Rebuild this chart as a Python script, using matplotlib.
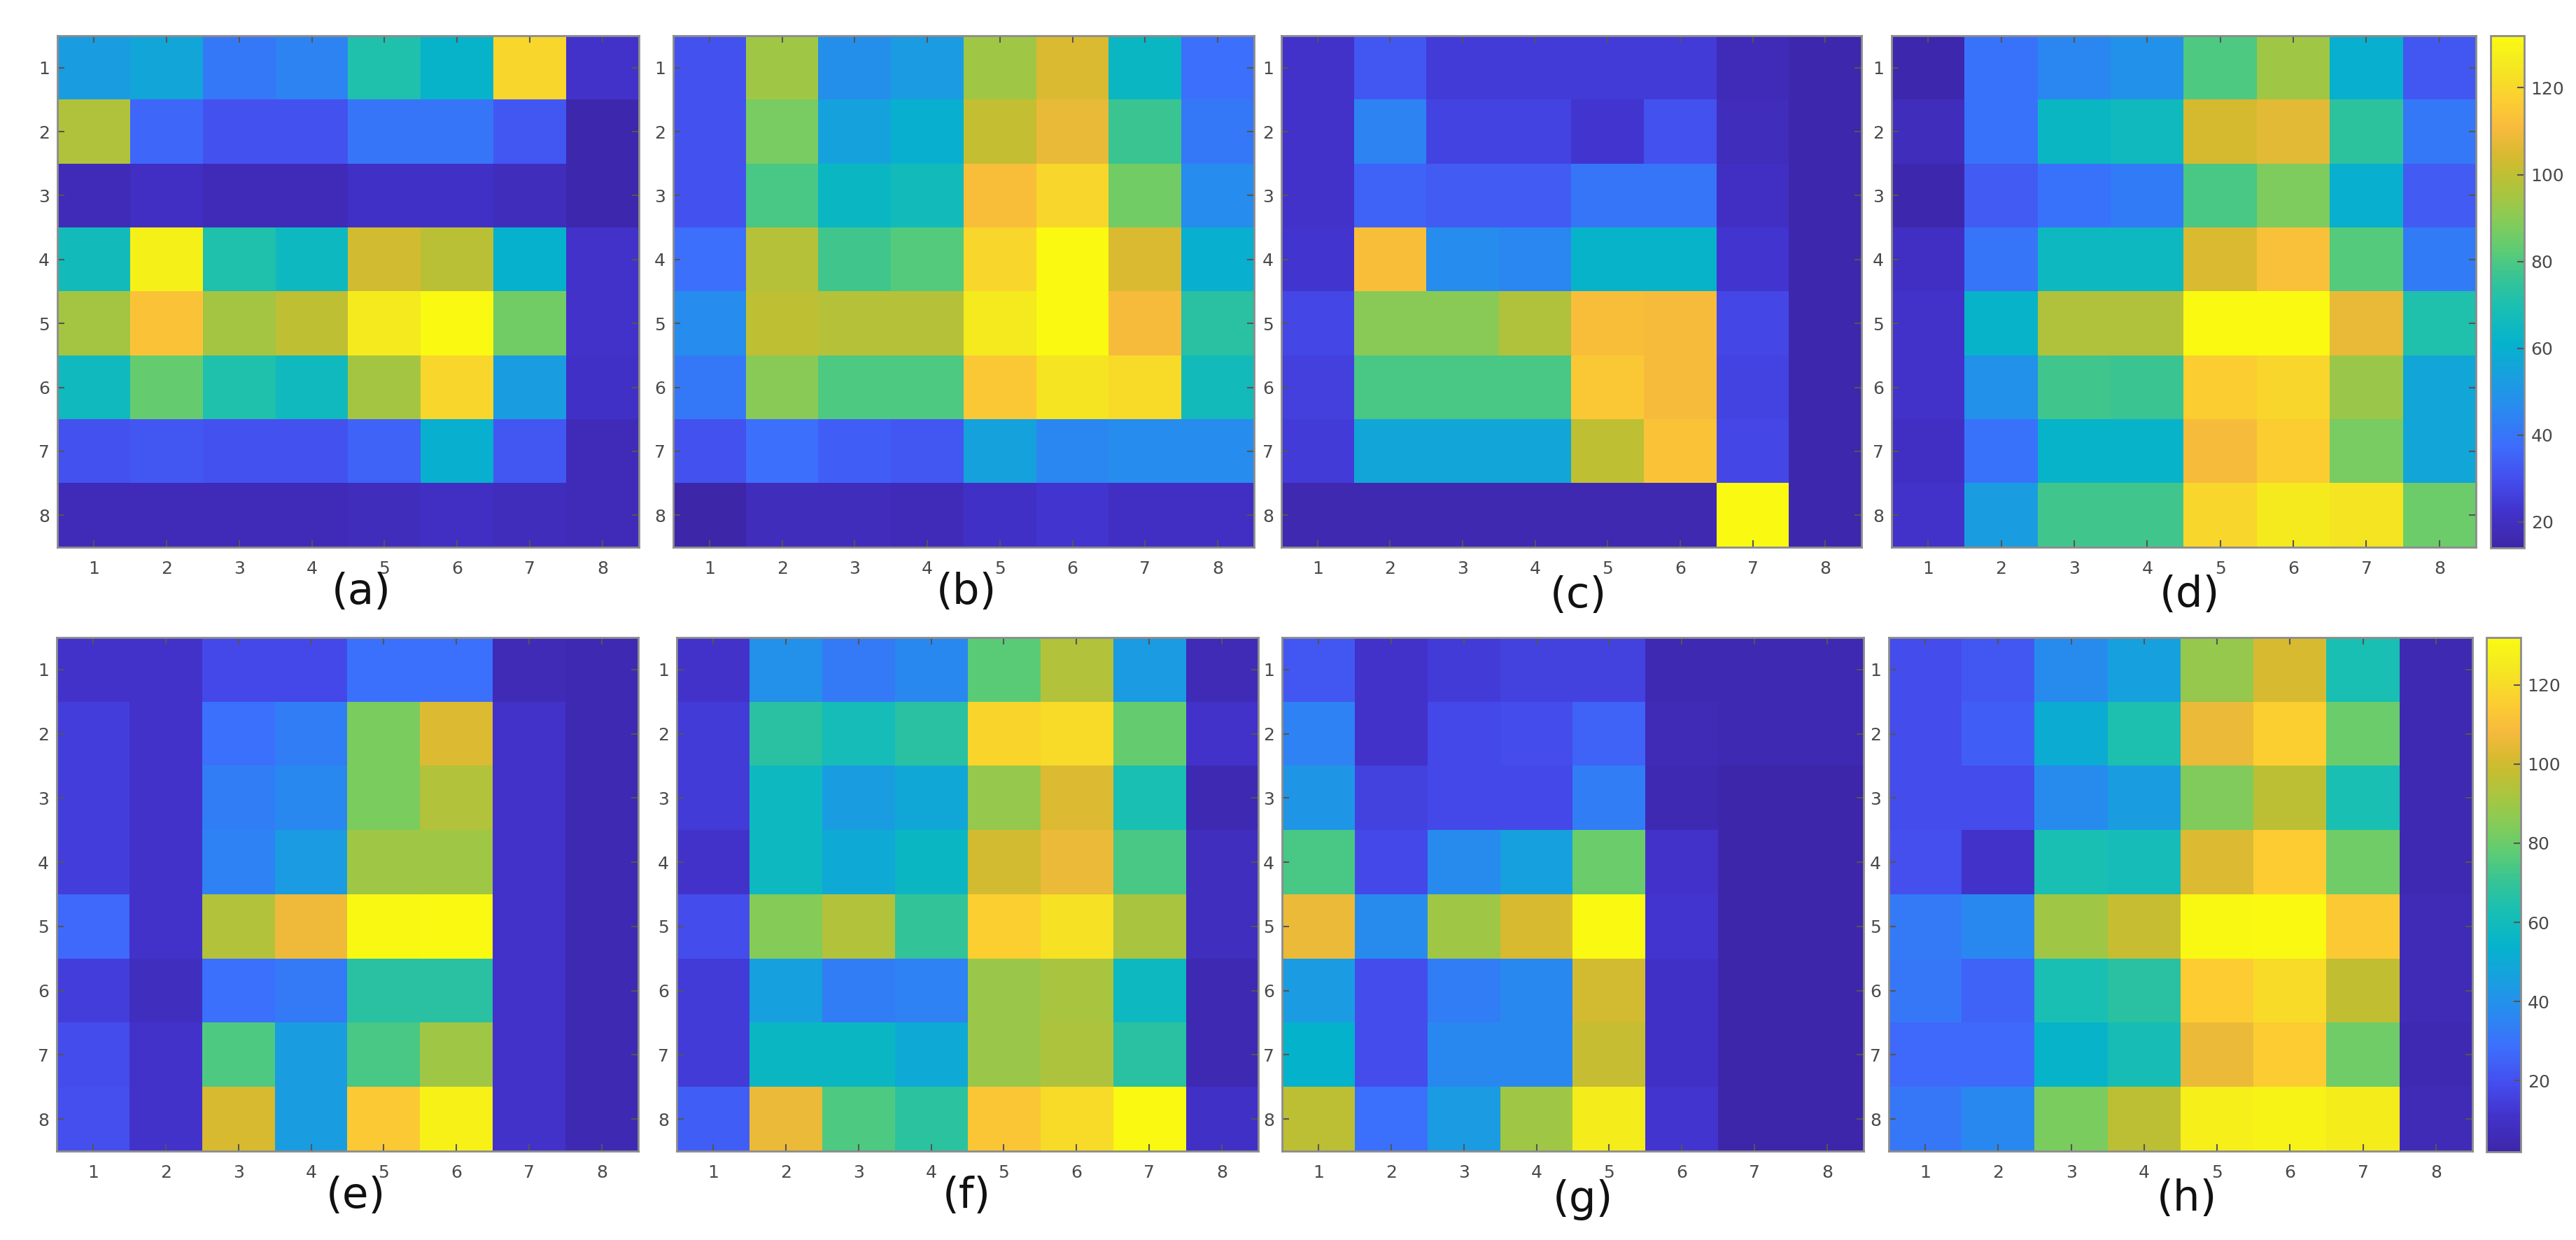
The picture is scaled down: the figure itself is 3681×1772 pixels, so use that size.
import matplotlib
matplotlib.use("Agg")
import matplotlib.pyplot as plt
import numpy as np
from matplotlib.colors import LinearSegmentedColormap

# values (rows 1..8, cols 1..8)
panel_a = [[53, 56, 41, 44, 71, 62, 120, 22],
           [97, 36, 31, 31, 40, 40, 32, 15],
           [18, 20, 18, 18, 21, 21, 19, 15],
           [67, 128, 71, 65, 103, 99, 61, 22],
           [95, 114, 95, 100, 126, 132, 86, 22],
           [66, 84, 71, 66, 95, 120, 53, 21],
           [31, 32, 31, 31, 35, 60, 32, 18],
           [18, 18, 18, 18, 19, 20, 19, 18]]
panel_b = [[31, 94, 48, 52, 94, 105, 64, 38],
           [31, 87, 55, 60, 101, 108, 77, 41],
           [31, 79, 64, 67, 112, 120, 86, 47],
           [38, 98, 78, 81, 120, 132, 105, 60],
           [47, 100, 98, 98, 126, 132, 111, 73],
           [41, 90, 80, 80, 115, 124, 121, 67],
           [31, 38, 34, 32, 55, 45, 47, 47],
           [14, 19, 19, 18, 21, 23, 20, 20]]
panel_c = [[22, 32, 25, 25, 25, 25, 18, 15],
           [22, 44, 27, 27, 23, 31, 19, 15],
           [22, 35, 33, 33, 40, 40, 20, 15],
           [23, 112, 47, 45, 62, 62, 23, 15],
           [28, 90, 90, 97, 112, 111, 28, 15],
           [26, 79, 79, 79, 115, 111, 27, 15],
           [25, 56, 56, 56, 100, 114, 28, 15],
           [16, 16, 16, 16, 16, 16, 132, 15]]
panel_d = [[15, 39, 45, 49, 80, 94, 60, 32],
           [19, 39, 64, 66, 104, 107, 74, 41],
           [15, 33, 39, 42, 79, 88, 60, 33],
           [20, 40, 65, 65, 105, 113, 81, 42],
           [22, 62, 97, 97, 132, 132, 108, 71],
           [22, 49, 78, 77, 117, 120, 93, 56],
           [20, 39, 62, 62, 111, 117, 87, 56],
           [22, 53, 78, 78, 120, 126, 124, 85]]
panel_e = [[11, 11, 18, 18, 29, 29, 6, 5],
           [15, 11, 29, 33, 83, 103, 11, 5],
           [15, 11, 33, 37, 83, 94, 11, 5],
           [15, 11, 35, 44, 90, 90, 11, 5],
           [27, 11, 94, 107, 131, 132, 11, 5],
           [15, 8, 29, 32, 67, 67, 11, 5],
           [19, 11, 75, 45, 74, 90, 11, 5],
           [20, 11, 102, 45, 114, 128, 11, 5]]
panel_f = [[11, 40, 32, 37, 77, 94, 44, 6],
           [14, 67, 61, 67, 118, 120, 79, 11],
           [14, 58, 45, 49, 88, 103, 63, 5],
           [11, 58, 50, 57, 101, 106, 74, 8],
           [19, 85, 94, 70, 116, 122, 92, 8],
           [14, 46, 33, 35, 89, 92, 58, 5],
           [14, 57, 57, 50, 89, 93, 67, 5],
           [24, 106, 75, 68, 113, 120, 132, 10]]
panel_g = [[22, 11, 14, 16, 16, 5, 5, 5],
           [35, 11, 18, 19, 25, 6, 5, 5],
           [42, 16, 18, 18, 33, 5, 3, 3],
           [74, 18, 38, 46, 80, 11, 3, 3],
           [106, 38, 90, 102, 132, 12, 3, 3],
           [44, 19, 33, 37, 101, 10, 3, 3],
           [54, 19, 37, 37, 98, 10, 3, 3],
           [96, 29, 44, 90, 126, 12, 3, 3]]
panel_h = [[19, 22, 38, 46, 88, 102, 63, 5],
           [19, 24, 51, 64, 106, 116, 80, 5],
           [19, 19, 38, 45, 84, 96, 63, 5],
           [20, 11, 63, 61, 103, 115, 81, 5],
           [32, 37, 90, 98, 131, 132, 114, 6],
           [31, 25, 63, 67, 115, 120, 97, 6],
           [27, 27, 55, 62, 106, 115, 81, 5],
           [31, 37, 83, 96, 127, 129, 126, 6]]

panels = [panel_a, panel_b, panel_c, panel_d, panel_e, panel_f, panel_g, panel_h]
labels = ["(a)", "(b)", "(c)", "(d)", "(e)", "(f)", "(g)", "(h)"]
tick_labels = ["1", "2", "3", "4", "5", "6", "7", "8"]
cbar_ticks = [20, 40, 60, 80, 100, 120]
row_limits = [(14, 132), (2, 132)]

# parula-like colormap
parula_stops = [
    (0.00, (0.24, 0.15, 0.66)), (0.07, (0.26, 0.20, 0.80)),
    (0.13, (0.27, 0.30, 0.93)), (0.20, (0.24, 0.43, 0.99)),
    (0.27, (0.16, 0.54, 0.94)), (0.33, (0.10, 0.62, 0.88)),
    (0.40, (0.02, 0.70, 0.80)), (0.47, (0.10, 0.75, 0.70)),
    (0.53, (0.22, 0.77, 0.58)), (0.58, (0.36, 0.80, 0.46)),
    (0.63, (0.50, 0.80, 0.36)), (0.68, (0.63, 0.78, 0.27)),
    (0.73, (0.75, 0.75, 0.20)), (0.77, (0.85, 0.73, 0.19)),
    (0.82, (0.97, 0.73, 0.24)), (0.87, (0.99, 0.80, 0.20)),
    (0.91, (0.97, 0.86, 0.16)), (0.95, (0.96, 0.92, 0.12)),
    (1.00, (0.98, 0.98, 0.07))]
parula = LinearSegmentedColormap.from_list("parula", parula_stops)

W, H = 3681, 1772
fig = plt.figure(figsize=(W / 100, H / 100), dpi=100)
fig.patch.set_facecolor("white")

# pixel boxes (x0, x1, y0, y1)
boxes = [(82, 913, 51, 782), (962, 1792, 51, 782), (1831, 2660, 51, 782), (2703, 3538, 51, 782),
         (81, 912, 911, 1645), (967, 1798, 911, 1645), (1832, 2663, 911, 1645), (2699, 3533, 911, 1645)]
cbar_boxes = [(3559, 3607, 51, 783), (3553, 3602, 911, 1646)]
label_pos = [(516, 847), (1381, 847), (2255, 852), (3129, 850),
             (508, 1710), (1381, 1710), (2262, 1714), (3125, 1714)]

def px_rect(b):
    x0, x1, y0, y1 = b
    return [x0 / W, 1 - y1 / H, (x1 - x0) / W, (y1 - y0) / H]

edge = "#8c8c8c"
ims = []
for i, data in enumerate(panels):
    vmin, vmax = row_limits[i // 4]
    ax = fig.add_axes(px_rect(boxes[i]))
    im = ax.imshow(np.array(data), cmap=parula, vmin=vmin, vmax=vmax,
                   aspect="auto", interpolation="nearest")
    ims.append(im)
    ax.set_xticks(range(8))
    ax.set_yticks(range(8))
    ax.set_xticklabels(tick_labels)
    ax.set_yticklabels(tick_labels)
    ax.tick_params(direction="in", length=7, width=1.5, color="#555555",
                   labelsize=18, labelcolor="#4a4a4a", top=True, right=True)
    ax.tick_params(axis="x", pad=14)
    ax.tick_params(axis="y", pad=8)
    for s in ax.spines.values():
        s.set_color(edge)
        s.set_linewidth(2)
    fig.text(label_pos[i][0] / W, 1 - label_pos[i][1] / H, labels[i],
             ha="center", va="center", fontsize=44, color="#111111")

for r in range(2):
    cax = fig.add_axes(px_rect(cbar_boxes[r]))
    cb = fig.colorbar(ims[r * 4 + 3], cax=cax, ticks=cbar_ticks)
    cb.outline.set_edgecolor(edge)
    cb.outline.set_linewidth(2)
    cax.tick_params(direction="in", length=7, width=1.5, color="#555555",
                    labelsize=18, labelcolor="#4a4a4a", pad=7)

fig.savefig("out.png", dpi=100, facecolor="white")
